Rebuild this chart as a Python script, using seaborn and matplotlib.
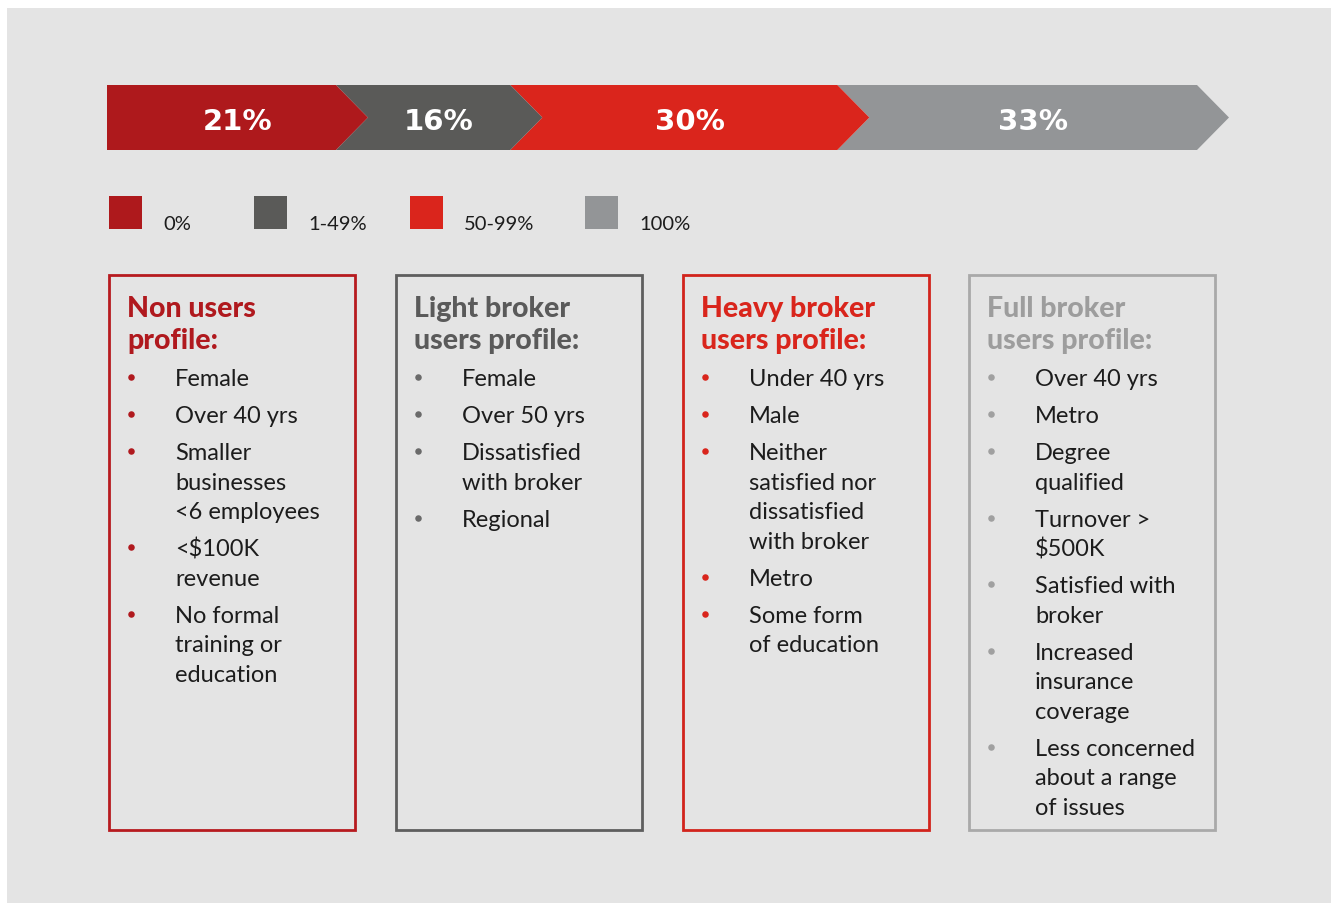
import numpy as np
import pandas as pd
import matplotlib.pyplot as plt
from matplotlib.patches import Polygon, Rectangle
import seaborn as sns

# data
segment_pcts = [21, 16, 30, 33]
segment_labels = ["21%", "16%", "30%", "33%"]
legend_labels = ["0%", "1-49%", "50-99%", "100%"]
profile_titles = [
    ["Non users", "profile:"],
    ["Light broker", "users profile:"],
    ["Heavy broker", "users profile:"],
    ["Full broker", "users profile:"],
]
profile_items = [
    [["Female"], ["Over 40 yrs"], ["Smaller", "businesses", "<6 employees"],
     ["<$100K", "revenue"], ["No formal", "training or", "education"]],
    [["Female"], ["Over 50 yrs"], ["Dissatisfied", "with broker"], ["Regional"]],
    [["Under 40 yrs"], ["Male"],
     ["Neither", "satisfied nor", "dissatisfied", "with broker"],
     ["Metro"], ["Some form", "of education"]],
    [["Over 40 yrs"], ["Metro"], ["Degree", "qualified"], ["Turnover >", "$500K"],
     ["Satisfied with", "broker"], ["Increased", "insurance", "coverage"],
     ["Less concerned", "about a range", "of issues"]],
]

# styles
seg_colors = ["#ae191c", "#5a5a58", "#da251c", "#939597"]
border_colors = ["#b71a1f", "#5e5e5e", "#d2241c", "#a9a9a9"]
title_colors = ["#b0191e", "#5a5a5a", "#d9251c", "#9d9d9d"]
dot_colors = ["#b0191e", "#6a6a6a", "#d9251c", "#a0a0a0"]
bg = "#e4e4e4"
text_col = "#1c1c1c"

sns.set_theme(style="white")
plt.rcParams['font.family'] = ['Lato', 'DejaVu Sans']

W, H = 1337, 904
fig = plt.figure(figsize=(W / 100, H / 100), dpi=100, facecolor="white")
ax = fig.add_axes([0, 0, 1, 1])
ax.set_axis_off()

ax.add_patch(Rectangle((7, 9), 1324, 900, facecolor=bg, edgecolor="none", zorder=0))

# chevron bar in its own axes, x in percent units
bar_left, bar_right, bar_top, bar_bot = 107, 1197, 86, 151
tip_px = 32
tip = tip_px * 100 / (bar_right - bar_left)
axb = fig.add_axes([bar_left / W, 1 - bar_bot / H,
                    (bar_right + tip_px - bar_left) / W, (bar_bot - bar_top) / H])
axb.set_axis_off()
axb.set_xlim(0, 100 + tip)
axb.set_ylim(0, 1)
edges = np.concatenate([[0], np.cumsum(segment_pcts)])
for i, (l, r) in enumerate(zip(edges[:-1], edges[1:])):
    pts = [(l, 0), (r, 0), (r + tip, 0.5), (r, 1), (l, 1)]
    if i > 0:
        pts.append((l + tip, 0.5))
    axb.add_patch(Polygon(pts, closed=True, facecolor=seg_colors[i],
                          edgecolor="none", zorder=len(segment_pcts) - i))
    axb.text((l + r + tip) / 2, 0.44, segment_labels[i], color="white",
             fontsize=21, fontweight="bold", ha="center", va="center",
             family="DejaVu Sans", zorder=10)

# legend squares
leg_x = [109, 254, 410, 585]
leg_df = pd.DataFrame({"x": [x + 16.5 for x in leg_x], "y": [213.5] * 4,
                       "label": legend_labels})
sns.scatterplot(data=leg_df, x="x", y="y", hue="label", palette=seg_colors,
                marker="s", s=(33 * 0.72) ** 2, linewidth=0, legend=False, ax=ax)
for x, lab in zip(leg_x, legend_labels):
    ax.text(x + 54, 230, lab, fontsize=14.5, color=text_col, ha="left", va="baseline")

# profile boxes
box_x = [109, 396, 683, 969]
box_w, box_top, box_bot = 246, 276, 831
line_gap, item_gap = 29.5, 37
for b, bx in enumerate(box_x):
    ax.add_patch(Rectangle((bx, box_top), box_w, box_bot - box_top, facecolor="none",
                           edgecolor=border_colors[b], linewidth=2, zorder=2))
    for k, t in enumerate(profile_titles[b]):
        ax.text(bx + 18, 309 + 32 * k, t, fontsize=20.5, fontweight=900,
                color=title_colors[b], ha="left", va="center")
    y = 378
    dots = []
    for item in profile_items[b]:
        dots.append(y)
        for j, line in enumerate(item):
            ax.text(bx + 66, y + 2 + j * line_gap, line, fontsize=17, color=text_col,
                    ha="left", va="center")
        y += (len(item) - 1) * line_gap + item_gap
    dot_df = pd.DataFrame({"x": [bx + 22] * len(dots), "y": dots})
    sns.scatterplot(data=dot_df, x="x", y="y", color=dot_colors[b], s=22,
                    linewidth=0, legend=False, ax=ax)

ax.set_xlim(0, W)
ax.set_ylim(H, 0)
ax.set_axis_off()

fig.savefig("out.png", dpi=100, facecolor="white")
